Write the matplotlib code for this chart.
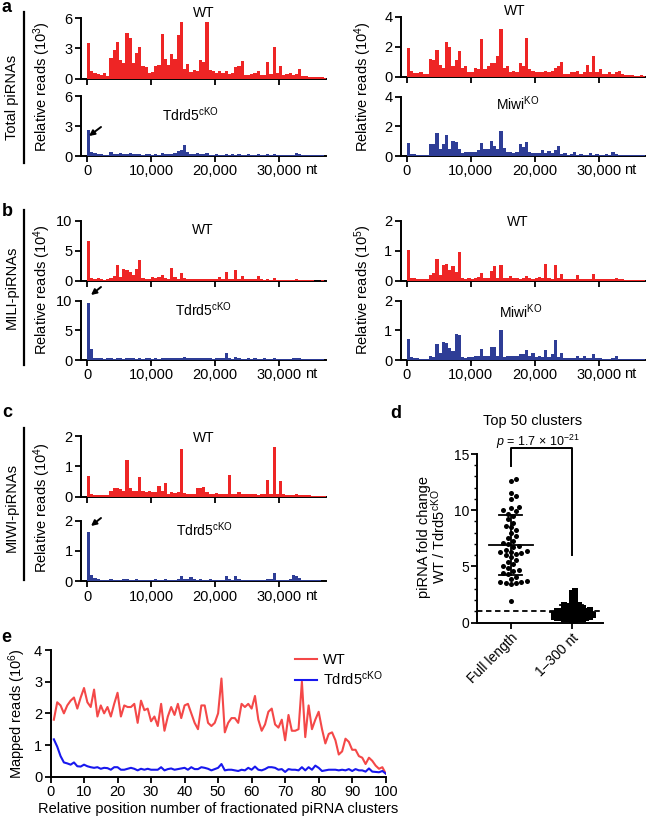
import numpy as np
import matplotlib.pyplot as plt

plt.rcParams['font.family'] = ['Liberation Sans', 'DejaVu Sans']
plt.rcParams['mathtext.fontset'] = 'custom'
plt.rcParams['mathtext.rm'] = 'Liberation Sans'
plt.rcParams['mathtext.it'] = 'Liberation Sans:italic'
plt.rcParams['mathtext.bf'] = 'Liberation Sans:bold'

W, H = 646, 823
BIN = 500  # nt per bin of the coverage tracks

# --- coverage tracks (values per 500-nt bin) ---
a_wt = [3.5, 0.7, 0.5, 0.4, 0.3, 0.5, 0.2, 2.0, 2.8, 3.6,
        1.8, 1.5, 4.5, 4.0, 1.5, 2.5, 3.1, 1.2, 1.1, 0.5,
        0.6, 1.2, 1.3, 4.4, 1.9, 1.3, 2.4, 1.9, 4.3, 5.6,
        0.9, 1.4, 0.6, 0.8, 0.7, 1.8, 1.6, 5.6, 0.8, 0.7,
        0.5, 0.7, 0.5, 0.7, 0.4, 0.5, 1.1, 1.2, 1.7, 0.3,
        0.3, 0.4, 0.5, 0.7, 0.3, 0.3, 1.6, 0.4, 3.1, 0.5,
        1.2, 0.3, 0.4, 0.5, 0.3, 0.4, 0.9, 0.2, 0.2, 0.1,
        0.1, 0.1, 0.1, 0.1, 0.05]
a_ko = [2.6, 0.4, 0.3, 0.2, 0.2, 0.15, 0.15, 0.4, 0.2, 0.2,
        0.3, 0.2, 0.2, 0.3, 0.2, 0.25, 0.2, 0.15, 0.2, 0.2,
        0.15, 0.2, 0.15, 0.35, 0.2, 0.2, 0.25, 0.3, 0.5, 0.6,
        1.1, 0.4, 0.2, 0.25, 0.3, 0.2, 0.2, 0.3, 0.15, 0.15,
        0.2, 0.15, 0.15, 0.2, 0.15, 0.2, 0.15, 0.2, 0.15, 0.15,
        0.2, 0.15, 0.15, 0.2, 0.15, 0.15, 0.2, 0.15, 0.2, 0.15,
        0.15, 0.15, 0.1, 0.15, 0.15, 0.3, 0.25, 0.15, 0.1, 0.1,
        0.1, 0.1, 0.1, 0.1, 0.05]
ar_wt = [1.9, 0.35, 0.25, 0.25, 0.3, 0.2, 0.15, 1.2, 1.1, 1.8,
         0.8, 0.6, 2.3, 2.0, 0.7, 1.1, 1.7, 0.6, 0.7, 0.3,
         0.3, 0.6, 0.5, 2.5, 0.5, 0.7, 0.9, 0.9, 1.4, 3.2,
         0.6, 0.7, 0.3, 0.4, 0.3, 0.9, 0.7, 2.6, 0.5, 0.4,
         0.3, 0.3, 0.3, 0.4, 0.3, 0.4, 0.6, 0.7, 1.0, 0.2,
         0.2, 0.3, 0.3, 0.4, 0.2, 0.3, 0.8, 0.3, 1.4, 0.3,
         0.5, 0.2, 0.2, 0.3, 0.2, 0.3, 0.4, 0.15, 0.1, 0.1,
         0.1, 0.05, 0.05, 0.1, 0.05]
ar_ko = [0.85, 0.15, 0.15, 0.1, 0.1, 0.1, 0.1, 0.8, 0.8, 1.55,
         0.5, 0.8, 1.45, 0.5, 1.0, 0.95, 0.5, 0.2, 0.3, 0.25,
         0.3, 0.3, 0.4, 0.85, 0.5, 0.5, 1.0, 0.7, 0.5, 1.7,
         0.55, 0.3, 0.3, 0.2, 0.3, 0.8, 0.6, 0.95, 0.3, 0.2,
         0.2, 0.2, 0.4, 0.2, 0.35, 0.2, 0.4, 0.7, 0.15, 0.2,
         0.1, 0.15, 0.25, 0.1, 0.15, 0.1, 0.1, 0.2, 0.1, 0.15,
         0.1, 0.1, 0.15, 0.1, 0.3, 0.15, 0.1, 0.1, 0.1, 0.05,
         0.05, 0.05, 0.05, 0.05, 0.05]
b_wt = [6.7, 0.5, 0.4, 0.5, 0.3, 0.2, 0.3, 0.5, 0.8, 2.6,
        0.7, 2.0, 1.9, 1.5, 1.0, 2.0, 3.4, 0.5, 0.4, 0.4,
        0.6, 0.5, 0.6, 1.0, 0.5, 0.4, 2.2, 0.6, 0.4, 1.3,
        0.5, 0.4, 0.4, 0.3, 0.4, 0.3, 0.4, 0.3, 0.4, 0.3,
        0.4, 0.6, 0.3, 1.5, 0.4, 0.3, 1.8, 0.4, 0.8, 0.3,
        0.3, 0.3, 0.3, 0.8, 0.3, 0.2, 0.3, 0.2, 0.5, 0.2,
        0.2, 0.2, 0.2, 0.2, 0.2, 0.3, 0.2, 0.2, 0.1, 0.1,
        0.1, 0.05, 0.05, 0.1, 0.05]
b_ko = [9.6, 1.9, 0.4, 0.3, 0.3, 0.2, 0.3, 0.3, 0.2, 0.3,
        0.3, 0.2, 0.4, 0.3, 0.3, 0.2, 0.3, 0.2, 0.3, 0.3,
        0.2, 0.3, 0.2, 0.3, 0.3, 0.3, 0.3, 0.4, 0.4, 0.4,
        0.5, 0.4, 0.4, 0.3, 0.3, 0.3, 0.3, 0.3, 0.3, 0.2,
        0.3, 0.3, 0.3, 1.1, 0.3, 0.2, 0.5, 0.3, 0.2, 0.2,
        0.3, 0.2, 0.3, 0.2, 0.2, 0.3, 0.2, 0.2, 0.3, 0.2,
        0.2, 0.2, 0.1, 0.2, 0.3, 0.3, 0.3, 0.2, 0.2, 0.1,
        0.1, 0.1, 0.1, 0.1, 0.05]
br_wt = [1.02, 0.1, 0.1, 0.08, 0.08, 0.06, 0.05, 0.2, 0.25, 0.72,
         0.2, 0.52, 0.55, 0.35, 0.5, 0.3, 0.97, 0.1, 0.08, 0.1,
         0.08, 0.1, 0.12, 0.28, 0.1, 0.1, 0.32, 0.5, 0.1, 0.52,
         0.1, 0.1, 0.18, 0.1, 0.1, 0.08, 0.1, 0.17, 0.1, 0.08,
         0.1, 0.13, 0.1, 0.56, 0.1, 0.08, 0.53, 0.1, 0.22, 0.08,
         0.08, 0.08, 0.07, 0.2, 0.08, 0.06, 0.07, 0.06, 0.22, 0.06,
         0.06, 0.06, 0.06, 0.05, 0.05, 0.1, 0.05, 0.05, 0.04, 0.04,
         0.03, 0.02, 0.02, 0.03, 0.02]
br_ko = [0.72, 0.1, 0.08, 0.06, 0.05, 0.05, 0.05, 0.15, 0.1, 0.55,
         0.25, 0.62, 0.58, 0.4, 0.3, 0.88, 0.85, 0.1, 0.08, 0.1,
         0.1, 0.15, 0.15, 0.38, 0.15, 0.12, 0.45, 0.45, 0.12, 1.02,
         0.1, 0.12, 0.12, 0.15, 0.15, 0.2, 0.2, 0.35, 0.15, 0.22,
         0.1, 0.12, 0.1, 0.35, 0.1, 0.2, 0.68, 0.1, 0.22, 0.08,
         0.08, 0.07, 0.08, 0.15, 0.07, 0.12, 0.06, 0.06, 0.2, 0.06,
         0.06, 0.05, 0.05, 0.05, 0.06, 0.15, 0.05, 0.05, 0.04, 0.04,
         0.03, 0.03, 0.03, 0.02, 0.02]
c_wt = [0.68, 0.08, 0.06, 0.06, 0.06, 0.05, 0.04, 0.2, 0.28, 0.3,
        0.25, 0.2, 1.22, 0.3, 0.2, 0.2, 0.65, 0.2, 0.15, 0.2,
        0.15, 0.15, 0.35, 0.2, 0.45, 0.1, 0.15, 0.12, 0.15, 1.57,
        0.12, 0.1, 0.1, 0.1, 0.3, 0.3, 0.33, 0.15, 0.1, 0.1,
        0.12, 0.1, 0.1, 0.1, 0.7, 0.1, 0.1, 0.15, 0.08, 0.08,
        0.08, 0.1, 0.08, 0.07, 0.08, 0.1, 0.55, 0.08, 1.65, 0.08,
        0.52, 0.08, 0.06, 0.06, 0.06, 0.1, 0.05, 0.05, 0.04, 0.04,
        0.03, 0.03, 0.03, 0.02, 0.02]
c_ko = [1.63, 0.2, 0.12, 0.06, 0.05, 0.05, 0.04, 0.06, 0.05, 0.05,
        0.05, 0.06, 0.08, 0.05, 0.05, 0.06, 0.05, 0.05, 0.05, 0.05,
        0.05, 0.06, 0.05, 0.05, 0.06, 0.05, 0.05, 0.05, 0.06, 0.18,
        0.08, 0.06, 0.15, 0.06, 0.05, 0.06, 0.05, 0.05, 0.06, 0.05,
        0.05, 0.05, 0.05, 0.18, 0.06, 0.05, 0.16, 0.06, 0.05, 0.05,
        0.05, 0.05, 0.05, 0.05, 0.05, 0.05, 0.06, 0.06, 0.27, 0.05,
        0.05, 0.05, 0.05, 0.06, 0.2, 0.17, 0.1, 0.05, 0.05, 0.04,
        0.04, 0.03, 0.03, 0.02, 0.02]

# --- panel d: fold change WT / Tdrd5cKO, top 50 clusters ---
full_length = [12.8, 12.6, 11.5, 11.3, 11.0, 10.3, 10.2, 10.0, 9.9, 9.7,
               9.5, 9.2, 8.9, 8.6, 8.5, 8.2, 8.0, 7.7, 7.5, 7.3,
               7.1, 7.0, 6.8, 6.7, 6.5, 6.4, 6.3, 6.3, 6.2, 6.1,
               6.0, 5.8, 5.6, 5.4, 5.2, 5.0, 4.9, 4.7, 4.6, 4.4,
               4.3, 4.1, 3.9, 3.7, 3.6, 3.6, 3.5, 3.5, 3.4, 1.9]
first_300 = [2.8, 2.6, 2.3, 2.1, 1.9, 1.8, 1.6, 1.6, 1.5, 1.4,
             1.4, 1.3, 1.3, 1.2, 1.2, 1.1, 1.1, 1.1, 1.0, 1.0,
             1.0, 0.9, 0.9, 0.9, 0.9, 0.8, 0.8, 0.8, 0.8, 0.7,
             0.7, 0.7, 0.7, 0.6, 0.6, 0.6, 0.6, 0.5, 0.5, 0.5,
             0.5, 0.4, 0.4, 0.4, 0.3, 0.3, 0.3, 0.3, 0.2, 0.2]
d_groups = ['Full length', '1–300 nt']

# --- panel e: mapped reads (10^6) per fractionated position ---
e_pos = list(range(1, 101))
e_wt = [1.8, 2.35, 2.25, 2.0, 2.25, 2.4, 2.5, 2.15, 2.5, 2.8,
        2.35, 2.2, 2.75, 1.9, 2.25, 2.0, 2.2, 1.9, 2.3, 2.65,
        1.9, 2.25, 2.2, 2.2, 2.3, 1.7, 2.4, 2.1, 2.15, 1.75,
        1.9, 1.6, 2.3, 1.45, 1.9, 2.2, 1.95, 2.3, 1.85, 2.25,
        2.3, 2.0, 1.7, 1.5, 2.25, 2.25, 1.7, 1.6, 1.7, 2.0,
        3.1, 1.4, 1.7, 1.85, 1.85, 1.7, 2.3, 2.2, 2.3, 2.15,
        2.55, 1.8, 1.45, 1.65, 2.05, 2.15, 1.65, 1.55, 1.8, 1.15,
        1.95, 1.45, 1.45, 1.5, 3.0, 1.25, 2.25, 1.5, 1.8, 2.05,
        1.5, 1.05, 1.35, 1.4, 1.15, 0.7, 0.8, 1.2, 1.1, 0.85,
        0.85, 0.65, 0.6, 0.4, 0.6, 0.5, 0.35, 0.25, 0.3, 0.1]
e_ko = [1.18, 0.95, 0.65, 0.45, 0.42, 0.38, 0.45, 0.33, 0.32, 0.38,
        0.33, 0.3, 0.28, 0.3, 0.25, 0.28, 0.27, 0.22, 0.3, 0.3,
        0.22, 0.22, 0.25, 0.28, 0.25, 0.2, 0.25, 0.22, 0.25, 0.22,
        0.22, 0.22, 0.3, 0.2, 0.24, 0.26, 0.22, 0.24, 0.26, 0.28,
        0.22, 0.3, 0.24, 0.24, 0.3, 0.28, 0.25, 0.2, 0.24, 0.28,
        0.4, 0.2, 0.22, 0.22, 0.2, 0.18, 0.22, 0.2, 0.28, 0.22,
        0.32, 0.22, 0.2, 0.24, 0.3, 0.3, 0.28, 0.22, 0.24, 0.15,
        0.24, 0.22, 0.22, 0.2, 0.3, 0.2, 0.3, 0.22, 0.35, 0.28,
        0.18, 0.2, 0.22, 0.22, 0.22, 0.2, 0.22, 0.2, 0.24, 0.18,
        0.24, 0.2, 0.2, 0.16, 0.26, 0.16, 0.15, 0.14, 0.18, 0.1]

RED = '#ee2525'
BLUE = '#2e3d96'

fig = plt.figure(figsize=(W / 100, H / 100), dpi=100)


def box(l, t, r, b):
    # pixel box (top-left origin) -> figure fraction
    return [l / W, 1 - b / H, (r - l) / W, (b - t) / H]


def txt(x, y, s, **kw):
    kw.setdefault('ha', 'center')
    kw.setdefault('va', 'center')
    kw.setdefault('fontsize', 10)
    return fig.text(x / W, 1 - y / H, s, **kw)


def style(ax):
    for side in ['top', 'right']:
        ax.spines[side].set_visible(False)
    for side in ['left', 'bottom']:
        ax.spines[side].set_linewidth(1.4)
    ax.tick_params(direction='out', length=4, width=1.3, labelsize=10.5, pad=2)


def track(rect, vals, color, ymax, yticks, labels=False):
    ax = fig.add_axes(rect)
    x = np.arange(len(vals)) * BIN
    ax.bar(x, vals, width=BIN, align='edge', color=color, linewidth=0, zorder=3)
    ax.set_xlim(-950, 37250)
    ax.set_ylim(0, ymax)
    ax.set_yticks(yticks)
    ax.set_xticks([0, 10000, 20000, 30000])
    style(ax)
    if labels:
        ax.set_xticklabels(['0', '10,000', '20,000', '30,000'])
        ax.text(34000, -0.235, 'nt', transform=ax.get_xaxis_transform(),
                ha='left', va='center', fontsize=10.5)
    else:
        ax.set_xticklabels([])
    return ax


L1, R1 = 81, 325.5
L2, R2 = 400.6, 645

# panel a
track(box(L1, 18.3, R1, 78.5), a_wt, RED, 6, [0, 3, 6])
track(box(L1, 96, R1, 156), a_ko, BLUE, 6, [0, 3, 6], labels=True)
track(box(L2, 16.7, R2, 76.7), ar_wt, RED, 4, [0, 2, 4])
track(box(L2, 96.7, R2, 156), ar_ko, BLUE, 4, [0, 2, 4], labels=True)
# panel b
track(box(L1, 220.7, R1, 281), b_wt, RED, 10, [0, 5, 10])
track(box(L1, 300.7, R1, 360), b_ko, BLUE, 10, [0, 5, 10], labels=True)
track(box(L2, 220.7, R2, 281), br_wt, RED, 2, [0, 1, 2])
track(box(L2, 300.7, R2, 360), br_ko, BLUE, 2, [0, 1, 2], labels=True)
# panel c
track(box(L1, 436, R1, 496.7), c_wt, RED, 2, [0, 1, 2])
track(box(L1, 520.7, R1, 581.3), c_ko, BLUE, 2, [0, 1, 2], labels=True)

KO = 'Tdrd5$^{\\mathrm{cKO}}$'
MIWI = 'Miwi$^{\\mathrm{KO}}$'
txt(204, 13, 'WT')
txt(190, 115, KO)
txt(515, 11, 'WT')
txt(518, 104, MIWI)
txt(203, 230, 'WT')
txt(203, 310, KO)
txt(518, 222, 'WT')
txt(521, 312, MIWI)
txt(204, 438, 'WT')
txt(204, 530, KO)

# y labels of tracks
txt(42, 87, 'Relative reads (10$^{3}$)', rotation=90, fontsize=10.5)
txt(363, 87, 'Relative reads (10$^{4}$)', rotation=90, fontsize=10.5)
txt(42, 290, 'Relative reads (10$^{4}$)', rotation=90, fontsize=10.5)
txt(363, 290, 'Relative reads (10$^{5}$)', rotation=90, fontsize=10.5)
txt(42, 508, 'Relative reads (10$^{4}$)', rotation=90, fontsize=10.5)

# group labels with bars
for label, yc, y0, y1 in [('Total piRNAs', 97, 12, 163),
                          ('MILI-piRNAs', 287, 210, 365),
                          ('MIWI-piRNAs', 507, 428, 580)]:
    txt(12, yc, label, rotation=90, fontsize=10.5)
    fig.add_artist(plt.Line2D([24 / W, 24 / W], [1 - y0 / H, 1 - y1 / H],
                              color='black', lw=1.6))

# arrows at the first peak of the knockout tracks
for tail, head in [((101, 127), (89, 136)),
                   ((101, 287), (91, 295)),
                   ((101, 518), (91, 526))]:
    fig.add_artist(plt.Annotation('', xy=(head[0], H - head[1]), xycoords='figure pixels',
                                  xytext=(tail[0], H - tail[1]), textcoords='figure pixels',
                                  arrowprops=dict(arrowstyle='-|>', color='black', lw=1.4,
                                                  mutation_scale=8, shrinkA=0, shrinkB=0)))

# panel letters
for letter, x, y in [('a', 6, 8), ('b', 7, 211), ('c', 7, 412), ('d', 396, 414), ('e', 6, 638)]:
    txt(x, y, letter, fontsize=13, fontweight='bold')


# --- panel d ---
def swarm(vals, xpx=60.9, ypx=11.3, d=4.8):
    vals = np.asarray(vals, dtype=float)
    placed = []
    offs = np.zeros(len(vals))
    step = d * 0.55
    for i in np.argsort(vals):
        y = vals[i] * ypx
        for k in range(0, 60):
            cand = (k + 1) // 2 * step * (1 if k % 2 else -1)
            if all((cand - px) ** 2 + (y - py) ** 2 >= d * d for px, py in placed):
                break
        placed.append((cand, y))
        offs[i] = cand / xpx
    return offs


axd = fig.add_axes(box(477.3, 454, 603.3, 622.7))
style(axd)
axd.set_xlim(-0.55, 1.52)
axd.set_ylim(0, 15)
axd.set_yticks([0, 5, 10, 15])
axd.set_yticks(np.arange(0, 16, 1), minor=True)
axd.tick_params(which='minor', direction='out', length=2.5, width=1.0)
axd.set_xticks([0, 1])
axd.set_xticklabels(d_groups, rotation=45, ha='right', rotation_mode='anchor', fontsize=10)
axd.tick_params(axis='y', labelsize=10)
for gi, (vals, mk) in enumerate([(full_length, 'o'), (first_300, 's')]):
    xs = gi + swarm(vals, d=4.8 if mk == 'o' else 3.3)
    axd.scatter(xs, vals, s=13 if mk == 'o' else 17, marker=mk, color='black',
                linewidths=0, zorder=3, clip_on=False)
    m, sd = np.mean(vals), np.std(vals, ddof=1)
    axd.plot([gi - 0.36, gi + 0.36], [m, m], color='black', lw=1.3, zorder=4)
    axd.plot([gi - 0.19, gi + 0.19], [m + sd, m + sd], color='black', lw=1.3, zorder=4)
    axd.plot([gi - 0.19, gi + 0.19], [m - sd, m - sd], color='black', lw=1.3, zorder=4)
    axd.plot([gi, gi], [m - sd, m + sd], color='black', lw=1.3, zorder=4)
axd.axhline(1, color='black', lw=1.3, ls=(0, (3, 2)), zorder=5)
axd.plot([0, 0, 1, 1], [13.9, 15.5, 15.5, 6.0], color='black', lw=1.4, clip_on=False)
txt(533, 421, 'Top 50 clusters', fontsize=10.5)
txt(538, 442, '$\\it{p}$ = 1.7 × 10$^{-21}$', fontsize=9)
txt(424, 537, 'piRNA fold change', rotation=90, fontsize=10.5)
txt(439, 537, 'WT / ' + KO, rotation=90, fontsize=10.5)

# --- panel e ---
axe = fig.add_axes(box(50.5, 650, 385.7, 776.7))
style(axe)
axe.plot(e_pos, e_wt, color='#f44848', lw=1.5, label='WT')
axe.plot(e_pos, e_ko, color='#1818ee', lw=1.5, label=KO)
axe.set_xlim(0, 100)
axe.set_ylim(0, 4)
axe.set_xticks(range(0, 101, 10))
axe.set_yticks(range(0, 5))
axe.set_ylabel('Mapped reads (10$^{6}$)', fontsize=10.5, labelpad=4)
axe.set_xlabel('Relative position number of fractionated piRNA clusters', fontsize=10.5, labelpad=2)
axe.legend(loc='upper left', bbox_to_anchor=(0.7, 1.06), frameon=False, fontsize=10.5,
           handlelength=1.5, handletextpad=0.4, labelspacing=0.2, borderpad=0.2)

fig.savefig('out.png', dpi=100)
